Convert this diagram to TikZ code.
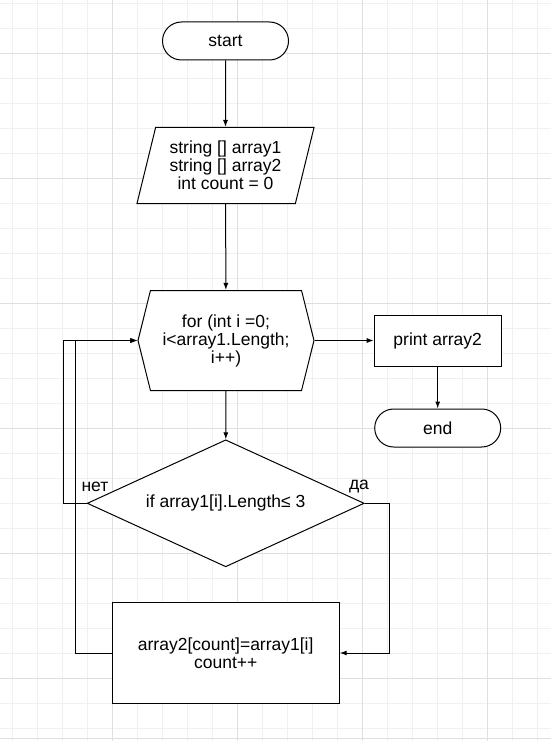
\documentclass[tikz,border=0pt]{standalone}
\usepackage{fontspec}
\setmainfont{Liberation Sans}
\usetikzlibrary{arrows.meta,shapes.geometric,shapes.symbols}

\tikzset{
  base/.style={draw, line width=1pt, align=center, fill=white,
    font=\fontsize{17.5}{18}\selectfont, inner sep=2pt},
  term/.style={base, rectangle, rounded corners=19pt,
    minimum width=126pt, minimum height=38pt},
  io/.style={base, trapezium, trapezium left angle=70.6,
    trapezium right angle=109.4, trapezium stretches body,
    minimum width=177pt, minimum height=76pt},
  loopbox/.style={base, signal, signal to=east and west,
    signal pointer angle=152, minimum width=176pt, minimum height=100pt},
  decision/.style={base, diamond, inner sep=0pt, aspect=2.18,
    minimum width=277pt, minimum height=127pt},
  process/.style={base, rectangle},
  arr/.style={line width=1pt, -{Latex[length=7pt,width=5pt]}},
  lbl/.style={font=\fontsize{17.5}{18}\selectfont},
  minor/.style={gray!12, line width=1pt},
  major/.style={gray!25, line width=1pt}
}

\begin{document}
\begin{tikzpicture}[x=1pt, y=-1pt]
  \useasboundingbox (0,0) rectangle (551,741);

  % Grid
  \foreach \x in {0,...,21} \draw[minor] (12.8+25*\x,0) -- (12.8+25*\x,741);
  \foreach \y in {0,...,29} \draw[minor] (0,3.3+25*\y) -- (551,3.3+25*\y);
  \foreach \x in {112.8,237.8,362.8,487.8} \draw[major] (\x,0) -- (\x,741);
  \foreach \y in {53.3,178.3,303.3,428.3,553.3,678.3} \draw[major] (0,\y) -- (551,\y);
  \draw[major] (0,738.3) -- (551,738.3);

  % Blocks
  \node[term] (start) at (225.5,41) {start};
  \node[io] (vars) at (225.5,165.5) {string [] array1\\string [] array2\\int count = 0};
  \node[loopbox] (loop) at (226,340.5) {for (int i =0;\\i<array1.Length;\\i++)};
  \node[decision] (cond) at (225.7,503.3) {if array1[i].Length≤ 3};
  \node[process, minimum width=227pt, minimum height=101pt] (body) at (225.7,653)
    {array2[count]=array1[i]\\count++};
  \node[process, minimum width=127pt, minimum height=51pt] (print) at (437.7,340.5) {print array2};
  \node[term] (end) at (437.7,428) {end};

  % Connectors
  \draw[arr] (start) -- (vars);
  \draw[arr] (vars) -- (loop);
  \draw[arr] (loop) -- (cond);
  \draw[arr] (loop.east) -- (print.west);
  \draw[arr] (print) -- (end);

  % Branches
  \draw[arr] (cond.east) -- ++(24.3,0) |- (body.east);
  \draw[arr] (cond.west) -- ++(-23.4,0) |- (loop.west);
  \draw[arr] (body.west) -- ++(-36.6,0) |- (loop.west);

  % Labels
  \node[lbl] (no) at (95,486.5) {нет};
  \node[lbl] (yes) at (359,486.5) {да};
\end{tikzpicture}
\end{document}
